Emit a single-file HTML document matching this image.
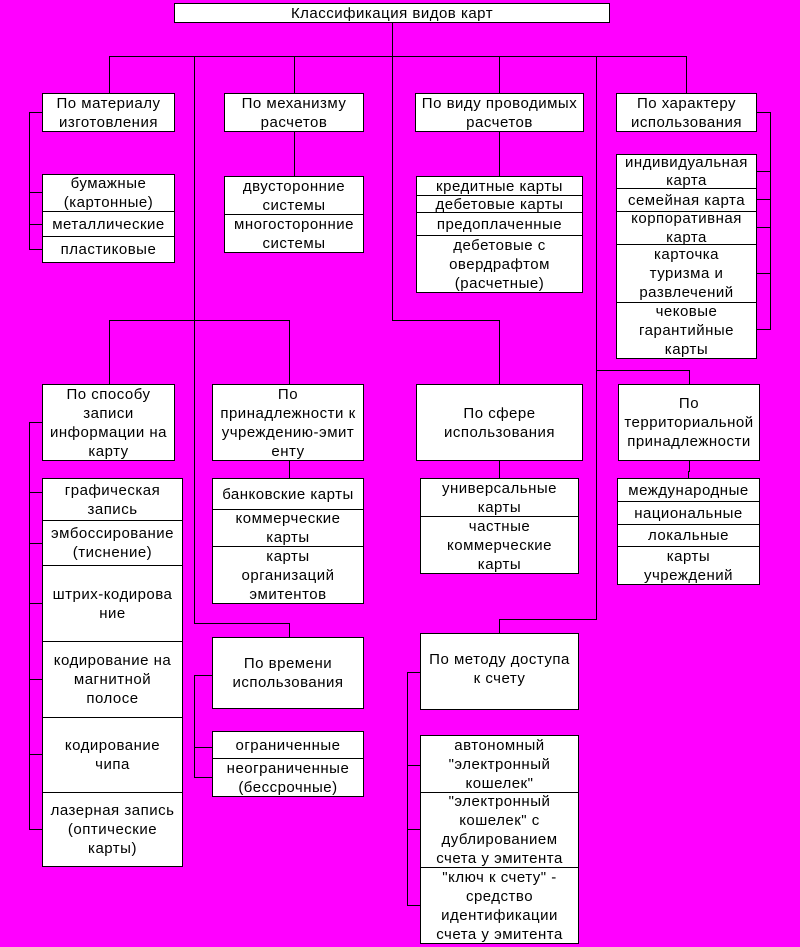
<!DOCTYPE html>
<html><head><meta charset="utf-8">
<style>
html,body{margin:0;padding:0;}
body{width:800px;height:947px;background:#FF00FF;position:relative;overflow:hidden;font-family:"Liberation Sans",sans-serif;font-size:15px;letter-spacing:0.5px;color:#000;}
.c{position:absolute;box-sizing:border-box;background:#fff;border:1px solid #000;display:flex;flex-direction:column;justify-content:center;align-items:center;text-align:center;line-height:19px;overflow:hidden;white-space:nowrap;}
svg{position:absolute;left:0;top:0;}
</style></head><body>
<svg width="800" height="947" shape-rendering="crispEdges" stroke="#000" stroke-width="1" fill="none">
<path d="M392.5 22V320.5H499.5V384"/>
<path d="M109.5 93V56.5H686.5V93"/>
<path d="M194.5 56V623.5H289.5V637"/>
<path d="M294.5 56V93M499.5 56V93"/>
<path d="M596.5 56V619.5H499.5V633"/>
<path d="M294.5 131V176M499.5 131V176"/>
<path d="M42 112.5H29.5V249.5H42M29 192.5H42M29 224.5H42"/>
<path d="M756 112.5H770.5V329.5H756M756 171.5H770M756 199.5H770M756 227.5H770M756 273.5H770"/>
<path d="M109.5 384V320.5H289.5V384"/>
<path d="M289.5 460V478"/>
<path d="M42 422.5H29.5V829.5H42M29 492.5H42M29 543.5H42M29 603.5H42M29 679.5H42M29 754.5H42"/>
<path d="M499.5 460V478"/>
<path d="M596 370.5H689.5V384"/>
<path d="M689.5 460V471.5H688.5V478"/>
<path d="M212 675.5H194.5V777.5H212M194 747.5H212"/>
<path d="M420 672.5H407.5V905.5H420M407 765.5H420M407 829.5H420"/>
</svg>

<div class="c" style="left:174px;top:3px;width:436px;height:20px;">Классификация видов карт</div>

<div class="c" style="left:42px;top:93px;width:133px;height:39px;">По материалу<br>изготовления</div>
<div class="c" style="left:42px;top:174px;width:133px;height:38px;">бумажные<br>(картонные)</div>
<div class="c" style="left:42px;top:211px;width:133px;height:26px;">металлические</div>
<div class="c" style="left:42px;top:236px;width:133px;height:27px;">пластиковые</div>

<div class="c" style="left:224px;top:93px;width:140px;height:39px;">По механизму<br>расчетов</div>
<div class="c" style="left:224px;top:176px;width:140px;height:39px;">двусторонние<br>системы</div>
<div class="c" style="left:224px;top:214px;width:140px;height:39px;">многосторонние<br>системы</div>

<div class="c" style="left:415px;top:93px;width:169px;height:39px;">По виду проводимых<br>расчетов</div>
<div class="c" style="left:416px;top:176px;width:167px;height:20px;">кредитные карты</div>
<div class="c" style="left:416px;top:195px;width:167px;height:18px;">дебетовые карты</div>
<div class="c" style="left:416px;top:212px;width:167px;height:24px;">предоплаченные</div>
<div class="c" style="left:416px;top:235px;width:167px;height:58px;">дебетовые с<br>овердрафтом<br>(расчетные)</div>

<div class="c" style="left:616px;top:93px;width:141px;height:39px;">По характеру<br>использования</div>
<div class="c" style="left:616px;top:154px;width:141px;height:35px;line-height:18px;">индивидуальная<br>карта</div>
<div class="c" style="left:616px;top:188px;width:141px;height:24px;">семейная карта</div>
<div class="c" style="left:616px;top:211px;width:141px;height:34px;line-height:19px;">корпоративная<br>карта</div>
<div class="c" style="left:616px;top:244px;width:141px;height:59px;">карточка<br>туризма и<br>развлечений</div>
<div class="c" style="left:616px;top:302px;width:141px;height:57px;">чековые<br>гарантийные<br>карты</div>

<div class="c" style="left:42px;top:384px;width:133px;height:77px;">По способу<br>записи<br>информации на<br>карту</div>
<div class="c" style="left:42px;top:478px;width:141px;height:43px;">графическая<br>запись</div>
<div class="c" style="left:42px;top:520px;width:141px;height:46px;">эмбоссирование<br>(тиснение)</div>
<div class="c" style="left:42px;top:565px;width:141px;height:77px;">штрих-кодирова<br>ние</div>
<div class="c" style="left:42px;top:641px;width:141px;height:77px;">кодирование на<br>магнитной<br>полосе</div>
<div class="c" style="left:42px;top:717px;width:141px;height:76px;">кодирование<br>чипа</div>
<div class="c" style="left:42px;top:792px;width:141px;height:75px;">лазерная запись<br>(оптические<br>карты)</div>

<div class="c" style="left:212px;top:384px;width:152px;height:77px;">По<br>принадлежности к<br>учреждению-эмит<br>енту</div>
<div class="c" style="left:212px;top:478px;width:152px;height:32px;">банковские карты</div>
<div class="c" style="left:212px;top:509px;width:152px;height:38px;">коммерческие<br>карты</div>
<div class="c" style="left:212px;top:546px;width:152px;height:58px;">карты<br>организаций<br>эмитентов</div>

<div class="c" style="left:416px;top:384px;width:167px;height:77px;">По сфере<br>использования</div>
<div class="c" style="left:420px;top:478px;width:159px;height:39px;">универсальные<br>карты</div>
<div class="c" style="left:420px;top:516px;width:159px;height:58px;">частные<br>коммерческие<br>карты</div>

<div class="c" style="left:618px;top:384px;width:142px;height:77px;">По<br>территориальной<br>принадлежности</div>
<div class="c" style="left:617px;top:478px;width:143px;height:24px;">международные</div>
<div class="c" style="left:617px;top:501px;width:143px;height:24px;">национальные</div>
<div class="c" style="left:617px;top:524px;width:143px;height:23px;">локальные</div>
<div class="c" style="left:617px;top:546px;width:143px;height:39px;">карты<br>учреждений</div>

<div class="c" style="left:212px;top:637px;width:152px;height:72px;">По времени<br>использования</div>
<div class="c" style="left:212px;top:731px;width:152px;height:28px;">ограниченные</div>
<div class="c" style="left:212px;top:758px;width:152px;height:39px;">неограниченные<br>(бессрочные)</div>

<div class="c" style="left:420px;top:633px;width:159px;height:77px;justify-content:flex-start;padding-top:16px;">По методу доступа<br>к счету</div>
<div class="c" style="left:420px;top:735px;width:159px;height:58px;">автономный<br>"электронный<br>кошелек"</div>
<div class="c" style="left:420px;top:792px;width:159px;height:76px;">"электронный<br>кошелек" с<br>дублированием<br>счета у эмитента</div>
<div class="c" style="left:420px;top:867px;width:159px;height:77px;">"ключ к счету" -<br>средство<br>идентификации<br>счета у эмитента</div>
</body></html>
